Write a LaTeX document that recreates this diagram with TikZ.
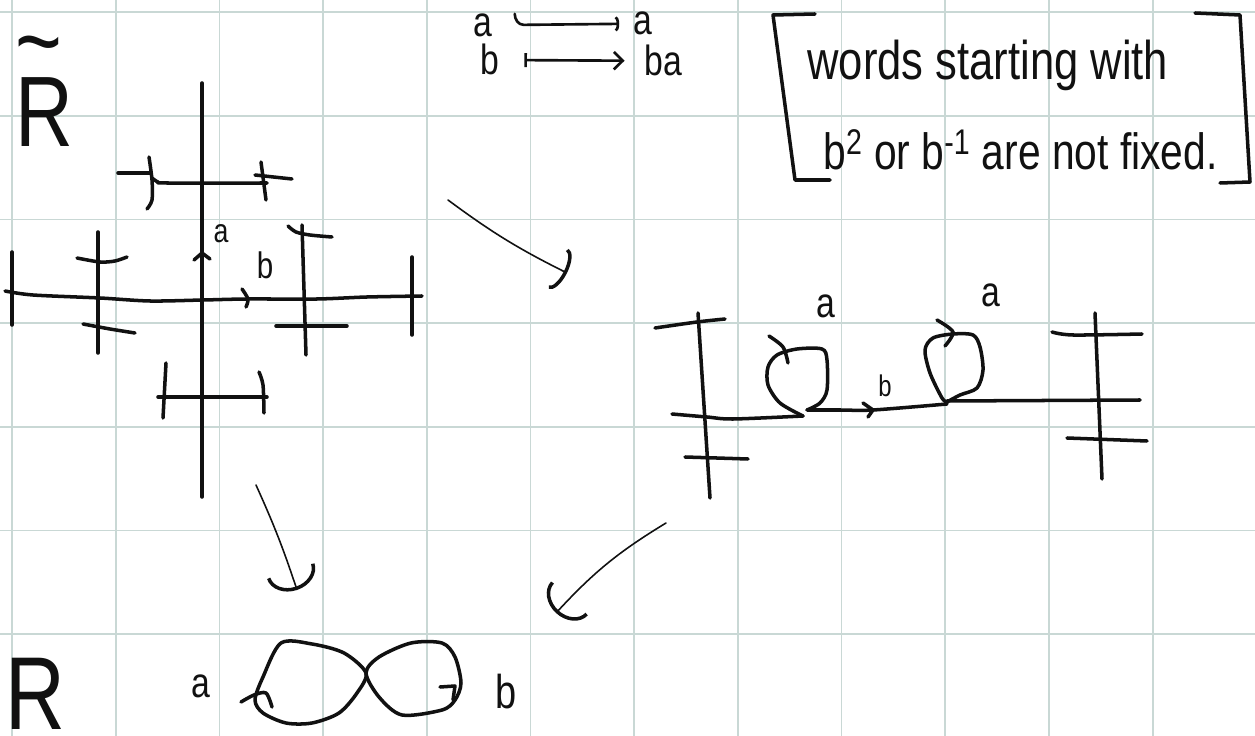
\documentclass[tikz,border=0pt]{standalone}
\usepackage{fontspec}
\usepackage{tikz}
\usetikzlibrary{arrows.meta,positioning}
\newfontfamily\hand[FakeStretch=0.8]{Liberation Sans}
\definecolor{Ink}{HTML}{111111}
\definecolor{Grid}{HTML}{C9D8D5}

\begin{document}
\begin{tikzpicture}[x=0.02cm,y=-0.02cm,
  gridline/.style={draw=Grid,line width=1pt},
  pen/.style={draw=Ink,line width=2pt,line cap=round,line join=round},
  thinpen/.style={draw=Ink,line width=1.5pt,line cap=round,line join=round},
  letter/.style={text=Ink,inner sep=0pt,anchor=base,font=\hand\fontsize{#1}{#1}\selectfont},
  bigarrow/.style={draw=Ink,line width=0.9pt,line cap=round,-{Arc Barb[length=4mm,width=10mm,line width=2pt]}}
]
\useasboundingbox (0,0) rectangle (1255,736);
\fill[white] (0,0) rectangle (1255,736);
\foreach \i in {0,...,12} \draw[gridline] ({12+103.7*\i},0) -- ({12+103.7*\i},736);
\foreach \j in {0,...,7} \draw[gridline] (0,{12+103.7*\j}) -- (1255,{12+103.7*\j});

\node[letter=57,anchor=south west,align=left,font=\hand\fontsize{57}{39}\selectfont] (Rtop) at (15,147) {\textasciitilde\\R};
\node[letter=59] (Rbot) at (35,729) {R};

\node[letter=24] (amap) at (483,37) {a};
\node[letter=24] (aimg) at (643,35) {a};
\node[letter=24] (bmap) at (490,75) {b};
\node[letter=24] (bimg) at (663,76) {ba};
\draw[thinpen,-{Arc Barb[length=2pt,width=9pt]}] (amap.east) ++(22,-12) to[out=-90,in=180] ++(9,11) -- ([xshift=-8pt]aimg.west);
\draw[thinpen,shorten <=14pt,shorten >=11pt,{Bar[width=8pt]}-{Straight Barb[length=5pt,width=10pt]}] (bmap) -- (bimg);

\draw[pen] (815,14) -- (773,15) -- (795,180) -- (830,180);
\draw[pen] (1195,13) -- (1240,15) -- (1250,182) -- (1220,183);
\node[letter=31,anchor=base west] (note1) at (807,80) {words starting with};
\node[letter=29,anchor=base west] (note2) at (823,170) {b\textsuperscript{2} or b\textsuperscript{-1} are not fixed.};

\draw[pen] (202,83) -- (202,497);
\draw[pen] plot[smooth] coordinates {(5,291) (33,295) (100,298) (150,301) (203,300) (247,299) (317,299) (367,297) (422,296)};
\draw[pen] (12,252) -- (12,325);
\draw[pen] (412,257) -- (412,335);
\draw[pen] (194,260) -- (202,253) -- (210,259);
\draw[pen] plot[smooth] coordinates {(242,289) (248,299) (246,307)};
\draw[pen] plot[smooth] coordinates {(152,178) (158,182) (167,183) (267,183)};
\draw[pen] plot[smooth] coordinates {(149,157) (152,180) (152,200) (147,209)};
\draw[pen] (118,173) -- (150,173);
\draw[pen] (261,162) -- (266,200);
\draw[pen] (255,175) -- (292,179);
\draw[pen] (98,232) -- (98,353);
\draw[pen] plot[smooth] coordinates {(77,258) (100,262) (115,261) (127,257)};
\draw[pen] plot[smooth] coordinates {(83,324) (110,329) (135,333)};
\draw[pen] (302,225) -- (306,355);
\draw[pen] plot[smooth] coordinates {(288,226) (296,232) (310,235) (332,237)};
\draw[pen] (276,326) -- (347,326);
\draw[pen] (158,397) -- (267,397);
\draw[pen] (166,363) -- (163,418);
\draw[pen] plot[smooth] coordinates {(259,372) (263,385) (264,413)};
\node[letter=19] (la) at (221,243) {a};
\node[letter=21] (lb) at (265,279) {b};

\draw[pen] (698,313) -- (710,498);
\draw[pen] plot[smooth] coordinates {(655,328) (697,322) (725,319)};
\draw[pen] (685,457) -- (748,459);
\draw[pen] plot[smooth] coordinates {(672,414) (707,417) (733,419) (803,416)};
\draw[pen] plot[smooth] coordinates {(803,416) (780,403) (768,385) (768,367) (777,355) (797,349) (822,349) (827,360) (827,390) (820,403) (807,410)};
\draw[pen] plot[smooth] coordinates {(769,336) (783,347) (788,363)};
\draw[pen] plot[smooth] coordinates {(807,410) (840,410) (873,410) (947,404)};
\draw[pen] (863,403) -- (873,410) -- (868,417);
\draw[pen] plot[smooth] coordinates {(947,402) (942,398) (930,373) (925,350) (933,338) (953,334) (973,335) (980,347) (983,370) (977,388) (960,395) (947,402)};
\draw[pen] plot[smooth] coordinates {(937,320) (953,332) (945,346)};
\draw[pen] (947,401) -- (1140,400);
\draw[pen] (1095,313) -- (1102,479);
\draw[pen] plot[smooth] coordinates {(1052,332) (1073,335) (1142,334)};
\draw[pen] (1067,438) -- (1147,441);
\node[letter=24] (ra) at (826,318) {a};
\node[letter=24] (rq) at (991,307) {a};
\node[letter=17] (rb) at (885,397) {b};

\draw[pen] plot[smooth cycle] coordinates {(366,673) (344,653) (312,644) (281,643) (263,677) (255,700) (263,713) (286,723) (312,723) (339,713) (357,693)};
\draw[pen] plot[smooth cycle] coordinates {(366,673) (379,657) (411,643) (442,643) (455,657) (461,683) (455,700) (442,710) (402,715) (379,697)};
\draw[pen] plot[smooth] coordinates {(241,702) (254,695) (266,693) (272,707)};
\draw[pen] (440,687) -- (455,686) -- (453,700);
\node[letter=24] (ba) at (201,697) {a};
\node[letter=27] (bb) at (506,708) {b};

\coordinate (cross) at (448,200);
\coordinate (unwrapped) at (567,273);
\coordinate (crossdown) at (256,485);
\coordinate (roseleft) at (297,590);
\coordinate (lineout) at (666,523);
\coordinate (roseright) at (556,613);
\draw[bigarrow,-{Arc Barb[length=2mm,width=9mm,line width=2pt]}] (cross) to[bend right=5] (unwrapped);
\draw[bigarrow] (crossdown) to[bend left=3] (roseleft);
\draw[bigarrow] (lineout) to[bend right=8] (roseright);
\end{tikzpicture}
\end{document}
